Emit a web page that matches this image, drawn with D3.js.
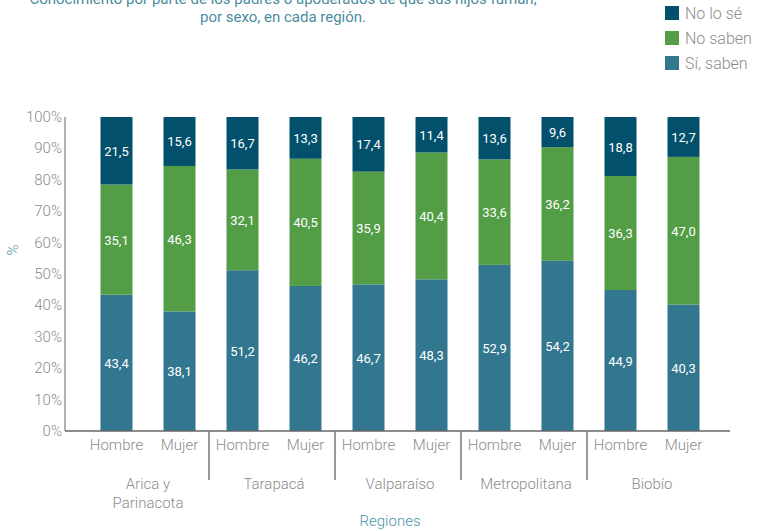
<!DOCTYPE html>
<html>
<head>
<meta charset="utf-8">
<script src="https://cdn.jsdelivr.net/npm/d3@7"></script>
<style>
body { margin: 0; background: #fff; }
svg text { font-family: Roboto, "Noto Sans", sans-serif; }
</style>
</head>
<body>
<svg id="chart" width="757" height="531"></svg>
<script>
var regions = ["Arica y\nParinacota", "Tarapacá", "Valparaíso", "Metropolitana", "Biobío"];
var sexes = ["Hombre", "Mujer"];
var series = ["Sí, saben", "No saben", "No lo sé"];
var siSaben  = [43.4, 38.1, 51.2, 46.2, 46.7, 48.3, 52.9, 54.2, 44.9, 40.3];
var noSaben  = [35.1, 46.3, 32.1, 40.5, 35.9, 40.4, 33.6, 36.2, 36.3, 47.0];
var noLoSe   = [21.5, 15.6, 16.7, 13.3, 17.4, 11.4, 13.6, 9.6, 18.8, 12.7];
var yTicks = [0, 10, 20, 30, 40, 50, 60, 70, 80, 90, 100];
var colors = ["#33768f", "#539d46", "#02506b"];

var svg = d3.select("#chart");
var mLeft = 65, mRight = 730, mTop = 117, mBottom = 431;

var y = d3.scaleLinear().domain([0, 100]).range([mBottom, mTop]);
var xg = d3.scaleBand().domain(d3.range(regions.length)).range([85, 715]).padding(0);
var xs = d3.scalePoint().domain(sexes).range([0, xg.bandwidth()]).padding(0.5);

var rows = [];
for (var i = 0; i < siSaben.length; i++) {
	rows.push({g: Math.floor(i / 2), s: sexes[i % 2], v: [siSaben[i], noSaben[i], noLoSe[i]]});
}

var bw = 32;
rows.forEach(function(r){
	var cx = xg(r.g) + xs(r.s);
	var acc = 0;
	r.v.forEach(function(v, k){
		var y0 = y(acc), y1 = y(Math.min(100, acc + v));
		svg.append("rect").attr("x", cx - bw/2).attr("y", y1).attr("width", bw).attr("height", y0 - y1).attr("fill", colors[k]);
		svg.append("text").attr("x", cx).attr("y", (y0 + y1)/2 + 5).attr("text-anchor", "middle")
			.attr("fill", "#fff").attr("font-size", 13).text(v.toFixed(1).replace(".", ","));
		acc += v;
	});
});

// y axis
svg.append("line").attr("x1", mLeft).attr("x2", mLeft).attr("y1", mTop).attr("y2", mBottom).attr("stroke", "#999").attr("stroke-width", 1.5);
yTicks.forEach(function(t){
	svg.append("text").attr("x", mLeft - 3).attr("y", y(t) + 5).attr("text-anchor", "end")
		.attr("fill", "#8c8c8c").attr("font-size", 15).attr("font-weight", 300).text(t + "%");
});
svg.append("text").attr("transform", "translate(18,250) rotate(-90)").attr("text-anchor", "middle")
	.attr("fill", "#4a95a8").attr("font-size", 15).attr("font-weight", 300).text("%");

// x axis
svg.append("line").attr("x1", mLeft).attr("x2", mRight).attr("y1", mBottom).attr("y2", mBottom).attr("stroke", "#666").attr("stroke-width", 1.5);
rows.forEach(function(r){
	svg.append("text").attr("x", xg(r.g) + xs(r.s)).attr("y", 450).attr("text-anchor", "middle")
		.attr("fill", "#8c8c8c").attr("font-size", 15).attr("font-weight", 300).text(r.s);
});
regions.forEach(function(name, i){
	name.split("\n").forEach(function(l, j){
		svg.append("text").attr("x", xg(i) + xg.bandwidth()/2).attr("y", 489 + j*19).attr("text-anchor", "middle")
			.attr("fill", "#8c8c8c").attr("font-size", 15).attr("font-weight", 300).text(l);
	});
	if (i > 0) {
		svg.append("line").attr("x1", xg(i) - 2).attr("x2", xg(i) - 2).attr("y1", mBottom).attr("y2", 480).attr("stroke", "#777").attr("stroke-width", 1.5);
	}
});
svg.append("text").attr("x", 390).attr("y", 526).attr("text-anchor", "middle")
	.attr("fill", "#4a95a8").attr("font-size", 15).attr("font-weight", 300).text("Regiones");

// title
var title = ["Conocimiento por parte de los padres o apoderados de que sus hijos fuman,", "por sexo, en cada región."];
title.forEach(function(t, j){
	svg.append("text").attr("x", 283).attr("y", 4 + j*18).attr("text-anchor", "middle")
		.attr("fill", "#4a8ca0").attr("font-size", 15).text(t);
});

// legend
var legendItems = ["No lo sé", "No saben", "Sí, saben"];
var legendColors = [colors[2], colors[1], colors[0]];
legendItems.forEach(function(l, j){
	svg.append("rect").attr("x", 665).attr("y", 6 + j*25).attr("width", 14).attr("height", 14).attr("fill", legendColors[j]);
	svg.append("text").attr("x", 685).attr("y", 19 + j*25).attr("fill", "#8c8c8c").attr("font-size", 16).attr("font-weight", 300).text(l);
});
</script>
</body>
</html>
